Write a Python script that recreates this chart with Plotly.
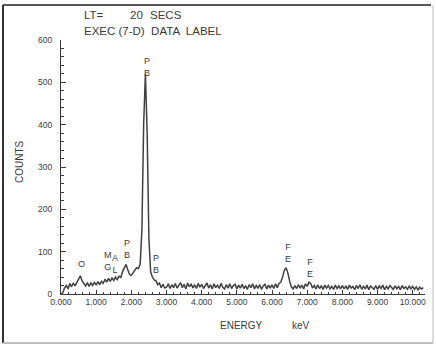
import plotly.graph_objects as go

# EDS spectrum counts, channel width 0.05 keV starting at 0.00 keV (one row per keV)
counts_0 = [0, 3, 14, 20, 12, 25, 17, 26, 19, 28, 38, 43, 31, 24, 19, 27, 18, 26, 20, 28]
counts_1 = [21, 29, 22, 30, 25, 35, 28, 37, 30, 38, 32, 40, 34, 42, 39, 53, 63, 70, 57, 46]
counts_2 = [44, 51, 56, 62, 60, 70, 150, 400, 520, 380, 130, 52, 40, 33, 31, 22, 26, 15, 23, 14]
counts_3 = [16, 24, 13, 22, 15, 25, 14, 21, 27, 15, 23, 12, 26, 17, 24, 14, 22, 13, 25, 16]
counts_4 = [23, 13, 20, 26, 14, 22, 12, 24, 15, 21, 13, 25, 16, 12, 22, 14, 24, 13, 20, 23]
counts_5 = [12, 21, 14, 23, 13, 19, 11, 22, 15, 24, 12, 20, 14, 22, 11, 19, 23, 12, 21, 14]
counts_6 = [22, 13, 24, 15, 25, 28, 40, 56, 62, 50, 31, 17, 12, 20, 13, 22, 14, 21, 12, 24]
counts_7 = [18, 28, 25, 14, 20, 12, 22, 13, 19, 11, 21, 14, 20, 12, 18, 11, 21, 13, 19, 12]
counts_8 = [20, 12, 19, 11, 21, 14, 18, 10, 20, 13, 22, 11, 18, 12, 21, 10, 19, 14, 11, 20]
counts_9 = [11, 19, 13, 21, 10, 18, 12, 20, 14, 11, 19, 12, 18, 10, 20, 13, 17, 11, 19, 12]
counts_10 = [18, 11, 17, 10, 16, 12, 15]
counts = (counts_0 + counts_1 + counts_2 + counts_3 + counts_4 + counts_5
          + counts_6 + counts_7 + counts_8 + counts_9 + counts_10)

# Peak labels
peak_labels = ["O", "M<br>G", "A<br>L", "P<br>B", "P<br>B", "P<br>B", "F<br>E", "F<br>E"]
peak_x = [0.57, 1.33, 1.53, 1.87, 2.44, 2.70, 6.45, 7.07]
peak_y = [71, 78, 70, 106, 537, 72, 98, 62]

x_ticks = [0, 1, 2, 3, 4, 5, 6, 7, 8, 9, 10]
y_ticks = [0, 100, 200, 300, 400, 500, 600]

W, H = 436, 346
L, R, T, B = 61, 11, 40, 52
PW, PH = W - L - R, H - T - B
def px(x):
    return (x - L) / PW
def py(y):
    return 1 - (y - T) / PH

ink = "#3a3a3a"
font = "Liberation Sans, Arial, sans-serif"

fig = go.Figure()
fig.add_trace(go.Scatter(y=counts, x0=0, dx=0.05, mode="lines",
                         line=dict(color="#404040", width=1.5), hoverinfo="skip"))

for t, x, y in zip(peak_labels, peak_x, peak_y):
    fig.add_annotation(x=x, y=y, text=t, showarrow=False, xref="x", yref="y",
                       font=dict(family=font, size=9, color=ink), align="center")

# header + axis titles
header = [("LT=", 82, 15.5), ("20", 128, 15.5), ("SECS", 148, 15.5),
          ("EXEC (7-D)  DATA  LABEL", 82, 31)]
for t, x, y in header:
    fig.add_annotation(x=px(x), y=py(y), xref="paper", yref="paper", text=t,
                       showarrow=False, xanchor="left", yanchor="middle",
                       font=dict(family=font, size=11.5, color=ink))
fig.add_annotation(x=px(218), y=py(325), xref="paper", yref="paper", text="ENERGY",
                   showarrow=False, xanchor="left", yanchor="middle",
                   font=dict(family=font, size=10, color=ink))
fig.add_annotation(x=px(290), y=py(325), xref="paper", yref="paper", text="keV",
                   showarrow=False, xanchor="left", yanchor="middle",
                   font=dict(family=font, size=10, color=ink))
fig.add_annotation(x=px(19), y=py(162), xref="paper", yref="paper", text="COUNTS",
                   showarrow=False, textangle=-90, xanchor="center", yanchor="middle",
                   font=dict(family=font, size=10, color=ink))

# outer frame
fig.add_shape(type="line", xref="paper", yref="paper", x0=px(3), x1=px(431), y0=py(5), y1=py(5),
              line=dict(color="#222", width=1.5))
fig.add_shape(type="line", xref="paper", yref="paper", x0=px(3), x1=px(3), y0=py(5), y1=py(343),
              line=dict(color="#333", width=2))
fig.add_shape(type="line", xref="paper", yref="paper", x0=px(3), x1=px(433), y0=py(343), y1=py(343),
              line=dict(color="#aaa", width=1.5))
fig.add_shape(type="line", xref="paper", yref="paper", x0=px(433), x1=px(433), y0=py(5), y1=py(343),
              line=dict(color="#bbb", width=1))

fig.update_layout(
    width=W, height=H, margin=dict(l=L, r=R, t=T, b=B),
    paper_bgcolor="white", plot_bgcolor="white", showlegend=False,
    font=dict(family=font, color=ink),
    xaxis=dict(range=[0, 10.35], tickvals=x_ticks, tickformat=".3f",
               ticks="inside", ticklen=4, tickcolor=ink, showline=True, linecolor=ink,
               linewidth=1, showgrid=False, zeroline=False, tickfont=dict(size=8.5),
               minor=dict(dtick=0.2, tick0=0, ticks="inside", ticklen=2, tickcolor=ink)),
    yaxis=dict(range=[0, 600], tickvals=y_ticks, ticks="inside", ticklen=5, tickcolor=ink,
               showline=True, linecolor=ink, linewidth=1, showgrid=False, zeroline=False,
               tickfont=dict(size=8.5), ticklabelstandoff=6,
               minor=dict(dtick=20, tick0=0, ticks="inside", ticklen=3, tickcolor=ink)),
)
fig.write_html("out.html")
